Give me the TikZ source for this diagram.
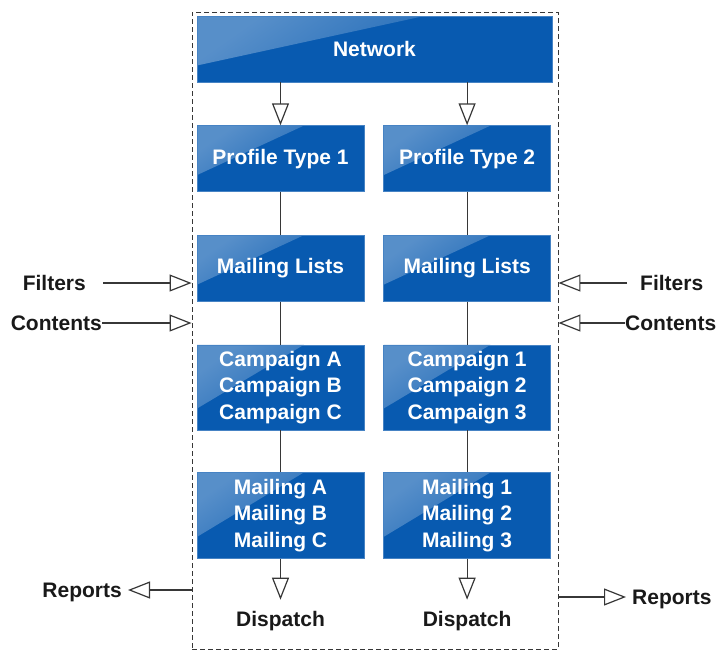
\documentclass[tikz,border=0pt]{standalone}
\usepackage{fontspec}
\setmainfont{Liberation Sans}
\usetikzlibrary{positioning, arrows.meta, calc}

\definecolor{boxblue}{RGB}{8,90,176}
\definecolor{linegray}{RGB}{55,55,55}

\begin{document}
\begin{tikzpicture}[x=1pt, y=1pt,
    blk/.style={draw=boxblue!75!white, line width=0.6pt, fill=boxblue,
      path picture={\shade[top color=boxblue!68!white, bottom color=boxblue, shading angle=35]
        (path picture bounding box.north west) -- ($(path picture bounding box.north west)!0.64!(path picture bounding box.north east)$)
        -- ($(path picture bounding box.north west)!0.75!(path picture bounding box.south west)$) -- cycle;},
      text=white, font=\bfseries\fontsize{21}{26.5}\selectfont, align=center, minimum width=167pt, minimum height=66pt, inner sep=2pt},
    lbl/.style={font=\bfseries\fontsize{21}{25}\selectfont, text=black!90, inner sep=0pt, text height=15pt, text depth=0pt},
    flow/.style={-{Triangle[open, length=22pt, width=17pt, line width=1.2pt]}, line width=1.2pt, linegray},
    link/.style={line width=1.2pt, linegray},
    frame/.style={draw, dashed, dash pattern=on 5pt off 3pt, linegray, line width=0.9pt},
    node distance=43pt and 19pt
  ]
  \useasboundingbox (0,0) rectangle (720,-651);

  \node[frame, minimum width=366pt, minimum height=637pt] (frame) at (375,-330.5) {};

  \node[blk, minimum width=355pt] (net) at (374.5,-49) {Network};
  \node[blk, anchor=north west] (pt1) at ([yshift=-43pt]net.south west) {Profile Type 1};
  \node[blk, right=of pt1] (pt2) {Profile Type 2};
  \node[blk, below=of pt1] (ml1) {Mailing Lists};
  \node[blk, below=of pt2] (ml2) {Mailing Lists};
  \node[blk, below=of ml1, minimum height=85pt] (cp1) {Campaign A\\Campaign B\\Campaign C};
  \node[blk, below=of ml2, minimum height=85pt] (cp2) {Campaign 1\\Campaign 2\\Campaign 3};
  \node[blk, below=42pt of cp1, minimum height=86pt] (mg1) {Mailing A\\Mailing B\\Mailing C};
  \node[blk, below=42pt of cp2, minimum height=86pt] (mg2) {Mailing 1\\Mailing 2\\Mailing 3};
  \node[lbl, below=53pt of mg1] (dp1) {Dispatch};
  \node[lbl, below=53pt of mg2] (dp2) {Dispatch};

  % outside labels
  \node[lbl, anchor=east] (fl) at (86,-283) {Filters};
  \node[lbl, anchor=east] (cl) at (102,-323) {Contents};
  \node[lbl, anchor=west] (fr) at (640,-283) {Filters};
  \node[lbl, anchor=west] (cr) at (625,-323) {Contents};
  \node[lbl, anchor=east] (rl) at (122,-590) {Reports};
  \node[lbl, anchor=west] (rr) at (632,-597) {Reports};

  \draw[flow] (pt1.north |- net.south) -- (pt1.north);
  \draw[flow] (pt2.north |- net.south) -- (pt2.north);
  \draw[link] (pt1) -- (ml1);
  \draw[link] (pt2) -- (ml2);
  \draw[link] (ml1) -- (cp1);
  \draw[link] (ml2) -- (cp2);
  \draw[link] (cp1) -- (mg1);
  \draw[link] (cp2) -- (mg2);
  \draw[flow, shorten >=12pt] (mg1) -- (dp1);
  \draw[flow, shorten >=12pt] (mg2) -- (dp2);

  \draw[flow, shorten <=17pt] (fl.east) -- (fl.east -| frame.west);
  \draw[flow] (cl.east) -- (cl.east -| frame.west);
  \draw[flow, shorten <=13pt] (fr.west) -- (fr.west -| frame.east);
  \draw[flow] (cr.west) -- (cr.west -| frame.east);
  \draw[flow, shorten >=6pt] (rl.east -| frame.west) -- (rl.east);
  \draw[flow, shorten >=6pt] (rr.west -| frame.east) -- (rr.west);
\end{tikzpicture}
\end{document}
